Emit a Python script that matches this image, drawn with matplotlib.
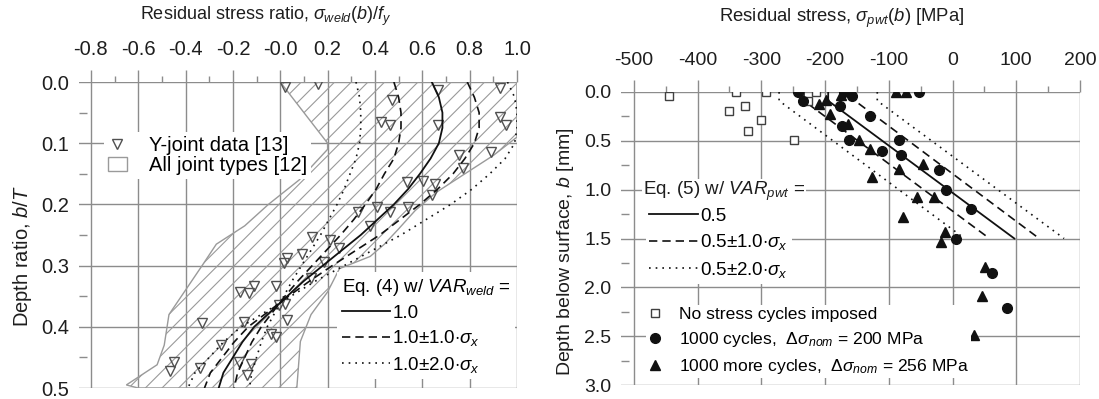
import numpy as np
import matplotlib
matplotlib.use("Agg")
import matplotlib.pyplot as plt
from matplotlib.patches import Polygon, Patch
from matplotlib.lines import Line2D
from matplotlib.ticker import FormatStrFormatter

plt.rcParams['font.family'] = ['Liberation Sans', 'DejaVu Sans']
plt.rcParams['mathtext.fontset'] = 'custom'
plt.rcParams['mathtext.rm'] = 'Liberation Sans'
plt.rcParams['mathtext.it'] = 'Liberation Sans:italic'
plt.rcParams['axes.unicode_minus'] = False
plt.rcParams['hatch.linewidth'] = 0.8
plt.rcParams['hatch.color'] = '#8a8a8a'

# ---- left panel data (residual stress ratio vs depth ratio)
band_x = [0.0, 1.0, 1.0, 0.9, 0.78, 0.66, 0.57, 0.5, 0.44, 0.38, 0.25, 0.2, 0.13, 0.085, 0.07,
          -0.6, -0.65, -0.52, -0.49, -0.47, -0.40, -0.33, -0.27, -0.15, -0.05, 0.08, 0.2, 0.2]
band_y = [0.0, 0.0, 0.09, 0.12, 0.15, 0.18, 0.21, 0.24, 0.265, 0.285, 0.305, 0.343, 0.38, 0.424, 0.5,
          0.5, 0.495, 0.462, 0.43, 0.38, 0.34, 0.30, 0.265, 0.235, 0.2, 0.16, 0.11, 0.1]

yj_x = [0.02, 0.16, 0.665, 0.47, 0.425, 0.465, 0.665, 0.93, 0.93, 0.955, 0.755, 0.77, 0.89,
        0.535, 0.605, 0.655, 0.64, 0.54, 0.41, 0.33, 0.465, 0.38, 0.135, 0.21, 0.25, 0.09,
        0.03, 0.015, 0.185, 0.13, -0.17, -0.13, -0.11, -0.02, -0.005, 0.02, 0.03, -0.33,
        -0.155, -0.04, -0.02, -0.25, -0.175, -0.125, -0.14, -0.45, -0.465, -0.34]
yj_y = [0.008, 0.004, 0.013, 0.03, 0.065, 0.07, 0.07, 0.01, 0.057, 0.07, 0.12, 0.14, 0.115,
        0.163, 0.162, 0.166, 0.184, 0.204, 0.204, 0.212, 0.212, 0.236, 0.253, 0.258, 0.271, 0.281,
        0.288, 0.295, 0.294, 0.321, 0.343, 0.345, 0.334, 0.334, 0.364, 0.362, 0.389, 0.394,
        0.392, 0.411, 0.416, 0.43, 0.457, 0.46, 0.479, 0.457, 0.472, 0.468]

eq_y = [0, .025, .05, .075, .1, .125, .15, .175, .2, .225, .25, .275, .3, .325, .35, .375, .4,
        .425, .45, .475, .5]
eq_mean = [0.64, 0.67, 0.685, 0.685, 0.67, 0.635, 0.59, 0.54, 0.48, 0.41, 0.34, 0.26, 0.18,
           0.10, 0.03, -0.04, -0.11, -0.16, -0.20, -0.24, -0.26]
eq_lo1 = [0.48, 0.50, 0.51, 0.51, 0.50, 0.48, 0.44, 0.405, 0.36, 0.31, 0.255, 0.195, 0.135,
          0.075, 0.02, -0.03, -0.08, -0.12, -0.15, -0.18, -0.195]
eq_hi1 = [0.79, 0.82, 0.84, 0.84, 0.82, 0.78, 0.73, 0.665, 0.59, 0.505, 0.42, 0.32, 0.22,
          0.125, 0.035, -0.05, -0.135, -0.195, -0.245, -0.295, -0.32]
eq_lo2 = [0.32, 0.335, 0.34, 0.34, 0.335, 0.32, 0.295, 0.27, 0.24, 0.205, 0.17, 0.13, 0.09,
          0.05, 0.015, -0.02, -0.055, -0.08, -0.10, -0.12, -0.13]
eq_hi2 = [0.96, 0.99, 1.0, 1.0, 0.99, 0.95, 0.885, 0.81, 0.72, 0.615, 0.51, 0.39, 0.27,
          0.15, 0.045, -0.06, -0.165, -0.24, -0.30, -0.36, -0.39]

# ---- right panel data (residual stress vs depth, MPa / mm)
sq_x = [-339, -292, -214, -227, -326, -350, -301, -321, -249, -445]
sq_y = [0.0, 0.0, 0.0, 0.09, 0.147, 0.195, 0.29, 0.4, 0.495, 0.04]
ci_x = [-243, -234, -170, -158, -52, -176, -130, -173, -162, -111, -84, -81, -21, -10, 29, 5, 62, 85]
ci_y = [0.0, 0.09, 0.0, 0.04, 0.0, 0.14, 0.245, 0.35, 0.495, 0.6, 0.495, 0.65, 0.795, 1.0,
        1.2, 1.5, 1.85, 2.21]
tr_x = [-89, -73, -175, -198, -210, -192, -164, -146, -129, -84, -47, -126, -55, -29, -77,
        -11, -18, 51, 47, 34]
tr_y = [0.0, 0.0, 0.035, 0.08, 0.125, 0.23, 0.325, 0.49, 0.58, 0.785, 0.735, 0.875, 1.08,
        1.08, 1.28, 1.43, 1.535, 1.79, 2.09, 2.49]

pwt_depth = [0.0, 0.09, 1.5]
pwt_mean = [-195, -195, 97]
pwt_lo1 = [-233, -233, 58]
pwt_hi1 = [-153, -153, 136]
pwt_lo2 = [-272, -272, 19]
pwt_hi2 = [-118, -118, 175]

gc = '#8c8c8c'
tc = '#1e1e1e'
dash = (5, 3)
dot = (1, 3)

fig = plt.figure(figsize=(10.99, 3.99), dpi=100)
ax1 = fig.add_axes([79/1099, 1-388/399, 438/1099, 306/399])
ax2 = fig.add_axes([621/1099, 1-385/399, 459/1099, 293/399])


def style(ax, xmaj, xmin, ymaj, ymin, xfmt, yfmt, fs):
    for s in ax.spines.values():
        s.set_visible(False)
    ax.xaxis.set_ticks_position('top')
    ax.set_xticks(xmaj)
    ax.set_xticks(xmin, minor=True)
    ax.set_yticks(ymaj)
    ax.set_yticks(ymin, minor=True)
    ax.xaxis.set_major_formatter(FormatStrFormatter(xfmt))
    ax.yaxis.set_major_formatter(FormatStrFormatter(yfmt))
    ax.tick_params(axis='x', which='major', direction='out', length=8.6, width=1,
                   color=gc, pad=8, labelsize=fs, labelcolor=tc)
    ax.tick_params(axis='x', which='minor', direction='out', length=4.3, width=1, color=gc)
    ax.tick_params(axis='y', which='major', length=0, pad=7, labelsize=fs, labelcolor=tc)
    ax.tick_params(axis='y', which='minor', direction='in', length=5.8, width=1, color=gc)
    ax.grid(True, which='major', color=gc, lw=1)
    ax.set_axisbelow(True)


# left
ax1.add_patch(Polygon(np.column_stack([band_x, band_y]), closed=True, facecolor='none',
                      edgecolor='#9a9a9a', lw=1, hatch='//', zorder=1.5))
ax1.plot(yj_x, yj_y, 'v', ms=7.5, mfc='none', mec='#505050', mew=1, zorder=3)
ax1.plot(eq_mean, eq_y, '-', color='#111111', lw=1.3, zorder=4)
for xs in (eq_lo1, eq_hi1):
    ax1.plot(xs, eq_y, color='#111111', lw=1.2, dashes=dash, zorder=4)
for xs in (eq_lo2, eq_hi2):
    ax1.plot(xs, eq_y, color='#111111', lw=1.2, dashes=dot, zorder=4)
ax1.set_xlim(-0.85, 1.0)
ax1.set_ylim(0.5, 0.0)
style(ax1, np.arange(-0.8, 1.01, 0.2), np.arange(-0.7, 1.0, 0.2),
      np.arange(0, 0.51, 0.1), np.arange(0.05, 0.5, 0.1), '%.1f', '%.1f', 14.5)
ax1.text(0.425, 1.215, r'Residual stress ratio, $\sigma_{weld}(b)/f_y$', transform=ax1.transAxes,
         ha='center', va='center', fontsize=13, color=tc)
ax1.text(-0.13, 0.43, r'Depth ratio, $b/T$', transform=ax1.transAxes, rotation=90,
         ha='center', va='center', fontsize=14.5, color=tc)

h1 = [Line2D([], [], ls='none', marker='v', ms=7.5, mfc='none', mec='#505050', mew=1),
      Patch(facecolor='white', edgecolor='#9a9a9a', hatch='/')]
lg1 = ax1.legend(h1, ['Y-joint data [13]', 'All joint types [12]'], loc='upper left',
                 bbox_to_anchor=(0.035, 0.868), frameon=True, fancybox=False,
                 edgecolor='none', framealpha=1, fontsize=14.5, handlelength=0.9,
                 handletextpad=1.1, labelspacing=0.02, borderpad=0.2)
lg1.set_zorder(6)
ax1.add_artist(lg1)
h2 = [Line2D([], [], color='#111111', lw=1.3),
      Line2D([], [], color='#111111', lw=1.2, dashes=dash),
      Line2D([], [], color='#111111', lw=1.2, dashes=dot)]
lg2 = ax1.legend(h2, ['1.0', r'1.0$\pm$1.0$\cdot\sigma_x$', r'1.0$\pm$2.0$\cdot\sigma_x$'],
                 title=r'Eq. (4) w/ $VAR_{weld}$ =', title_fontsize=13.5, alignment='left',
                 loc='lower right', bbox_to_anchor=(1.0, 0.022), frameon=True, fancybox=False,
                 edgecolor='none', framealpha=1, fontsize=13.5, handlelength=2.6,
                 handletextpad=0.1, labelspacing=0.35, borderpad=0.25, borderaxespad=0.1)
lg2.set_zorder(6)

# right
ax2.plot(sq_x, sq_y, 's', ms=5.5, mfc='white', mec='#404040', mew=1, zorder=3)
ax2.plot(ci_x, ci_y, 'o', ms=7, color='#111111', zorder=3)
ax2.plot(tr_x, tr_y, '^', ms=7.5, color='#111111', zorder=3)
ax2.plot(pwt_mean, pwt_depth, '-', color='#111111', lw=1.3, zorder=2)
for xs in (pwt_lo1, pwt_hi1):
    ax2.plot(xs, pwt_depth, color='#111111', lw=1.2, dashes=dash, zorder=2)
for xs in (pwt_lo2, pwt_hi2):
    ax2.plot(xs, pwt_depth, color='#111111', lw=1.2, dashes=dot, zorder=2)
ax2.set_xlim(-520, 200)
ax2.set_ylim(3.0, 0.0)
style(ax2, np.arange(-500, 201, 100), np.arange(-450, 200, 100),
      np.arange(0, 3.01, 0.5), np.arange(0.25, 3.0, 0.5), '%d', '%.1f', 14)
ax2.text(0.48, 1.25, r'Residual stress, $\sigma_{pwt}(b)$ [MPa]', transform=ax2.transAxes,
         ha='center', va='center', fontsize=13.3, color=tc)
ax2.text(-0.122, 0.455, r'Depth below surface, $b$ [mm]', transform=ax2.transAxes,
         rotation=90, ha='center', va='center', fontsize=14, color=tc)

# Eq. (5) legend: title drawn as its own text so the spacing matches
h3 = [Line2D([], [], color='#111111', lw=1.3),
      Line2D([], [], color='#111111', lw=1.2, dashes=dash),
      Line2D([], [], color='#111111', lw=1.2, dashes=dot)]
lg3 = ax2.legend(h3, ['0.5', r'0.5$\pm$1.0$\cdot\sigma_x$', r'0.5$\pm$2.0$\cdot\sigma_x$'],
                 loc='upper left', bbox_to_anchor=(0.033, 0.65), frameon=True, fancybox=False,
                 edgecolor='none', framealpha=1, fontsize=13.5, handlelength=2.6,
                 handletextpad=0.1, labelspacing=0.4, borderpad=0.2)
lg3.set_zorder(6)
ax2.add_artist(lg3)
ax2.text(0.048, 0.66, r'Eq. (5) w/ $VAR_{pwt}$ =', transform=ax2.transAxes, ha='left',
         va='center', fontsize=13.5, color=tc, zorder=5,
         bbox=dict(facecolor='white', edgecolor='none', pad=1))
h4 = [Line2D([], [], ls='none', marker='s', ms=5.5, mfc='white', mec='#404040', mew=1),
      Line2D([], [], ls='none', marker='o', ms=7, color='#111111'),
      Line2D([], [], ls='none', marker='^', ms=7.5, color='#111111')]
lg4 = ax2.legend(h4, ['No stress cycles imposed',
                      r'1000 cycles,  $\Delta\sigma_{nom}$ = 200 MPa',
                      r'1000 more cycles,  $\Delta\sigma_{nom}$ = 256 MPa'],
                 loc='lower left', bbox_to_anchor=(0.035, -0.005), frameon=True, fancybox=False,
                 edgecolor='none', framealpha=1, fontsize=12.6, handlelength=0.9,
                 handletextpad=0.9, labelspacing=0.45, borderpad=0.1)
lg4.set_zorder(6)

fig.savefig('out.png', dpi=100)
